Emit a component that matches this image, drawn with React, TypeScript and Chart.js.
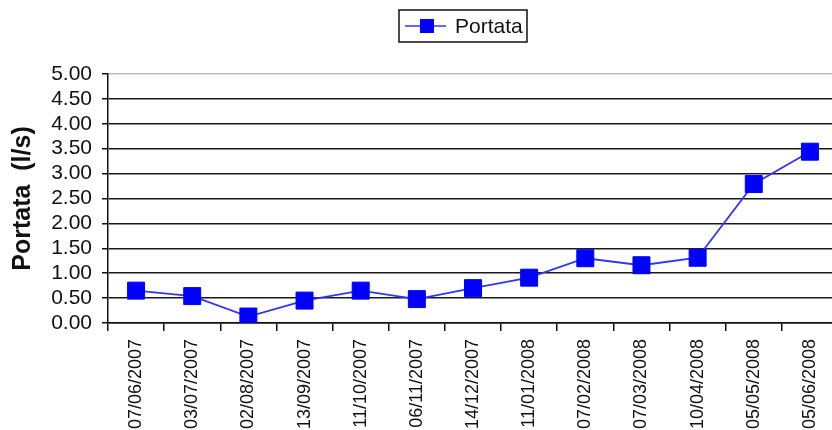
import React, { useEffect, useRef } from "react";
import { Chart, registerables } from "chart.js";

Chart.register(...registerables);

const dates: string[] = [
  "07/06/2007", "03/07/2007", "02/08/2007", "13/09/2007", "11/10/2007",
  "06/11/2007", "14/12/2007", "11/01/2008", "07/02/2008", "07/03/2008",
  "10/04/2008", "05/05/2008", "05/06/2008",
];
const portata: number[] = [0.65, 0.54, 0.13, 0.45, 0.65, 0.48, 0.70, 0.91, 1.30, 1.16, 1.31, 2.79, 3.44];
const seriesName = "Portata";
const yTitle = "Portata  (l/s)";
const yMin = 0;
const yMax = 5;
const yStep = 0.5;

const FONT = "'Liberation Sans', Arial, sans-serif";
const BLUE = "#0000ff";

const legendPlugin = {
  id: "customLegend",
  afterDraw(chart: any) {
    const ctx = chart.ctx;
    ctx.save();
    ctx.strokeStyle = "#111";
    ctx.lineWidth = 1.5;
    ctx.strokeRect(399, 10, 128, 32);
    ctx.strokeStyle = "#3333ff";
    ctx.lineWidth = 1.5;
    ctx.beginPath();
    ctx.moveTo(405, 26);
    ctx.lineTo(446, 26);
    ctx.stroke();
    ctx.fillStyle = BLUE;
    ctx.fillRect(420, 19, 14, 14);
    ctx.fillStyle = "#111";
    ctx.font = `21px ${FONT}`;
    ctx.textBaseline = "alphabetic";
    ctx.textAlign = "left";
    ctx.fillText(seriesName, 455, 33);
    ctx.restore();
  },
};

export default function App() {
  const ref = useRef<HTMLCanvasElement>(null);
  useEffect(() => {
    if (!ref.current) return;
    const chart = new Chart(ref.current, {
      type: "line",
      data: {
        labels: dates,
        datasets: [
          {
            label: seriesName,
            data: portata,
            borderColor: "#3333ff",
            borderWidth: 1.8,
            backgroundColor: BLUE,
            pointStyle: "rect",
            pointRadius: 12,
            pointBorderWidth: 1,
            pointBorderColor: BLUE,
            pointBackgroundColor: BLUE,
            tension: 0,
          },
        ],
      },
      options: {
        responsive: false,
        animation: false,
        layout: { padding: { top: 74, right: 3, left: 0, bottom: 0 } },
        plugins: {
          legend: { display: false },
          title: { display: false },
          tooltip: { enabled: false },
        },
        scales: {
          x: {
            offset: true,
            afterFit: (s: any) => { s.height = 107; },
            border: { display: true, color: "#111", width: 1.5 },
            grid: {
              offset: true,
              drawOnChartArea: false,
              drawTicks: true,
              tickLength: 8,
              color: "#111",
              lineWidth: 1.5,
            },
            ticks: {
              autoSkip: false,
              maxRotation: 90,
              minRotation: 90,
              padding: 8,
              color: "#111",
              font: { family: FONT, size: 18 },
            },
          },
          y: {
            min: yMin,
            max: yMax,
            afterFit: (s: any) => { s.width = 108; },
            border: { display: true, color: "#111", width: 1.5 },
            grid: {
              color: (c: any) => (c.tick && c.tick.value === yMax ? "#bbbbbb" : "#1a1a1a"),
              lineWidth: 1.5,
              drawTicks: true,
              tickLength: 6,
              tickColor: "#111",
            },
            ticks: {
              autoSkip: false,
              stepSize: yStep,
              padding: 10,
              color: "#111",
              font: { family: FONT, size: 21 },
              callback: (v: any) => Number(v).toFixed(2),
            },
            title: {
              display: true,
              text: yTitle,
              color: "#111",
              font: { family: FONT, size: 25, weight: "bold" },
              padding: { top: 8, bottom: 0 },
            },
          },
        },
      },
      plugins: [legendPlugin],
    });
    return () => chart.destroy();
  }, []);
  return (
    <div style={{ position: "absolute", left: 0, top: 0, width: 832, height: 430, overflow: "hidden", background: "#fff" }}>
      <canvas ref={ref} width={851} height={430} />
    </div>
  );
}
